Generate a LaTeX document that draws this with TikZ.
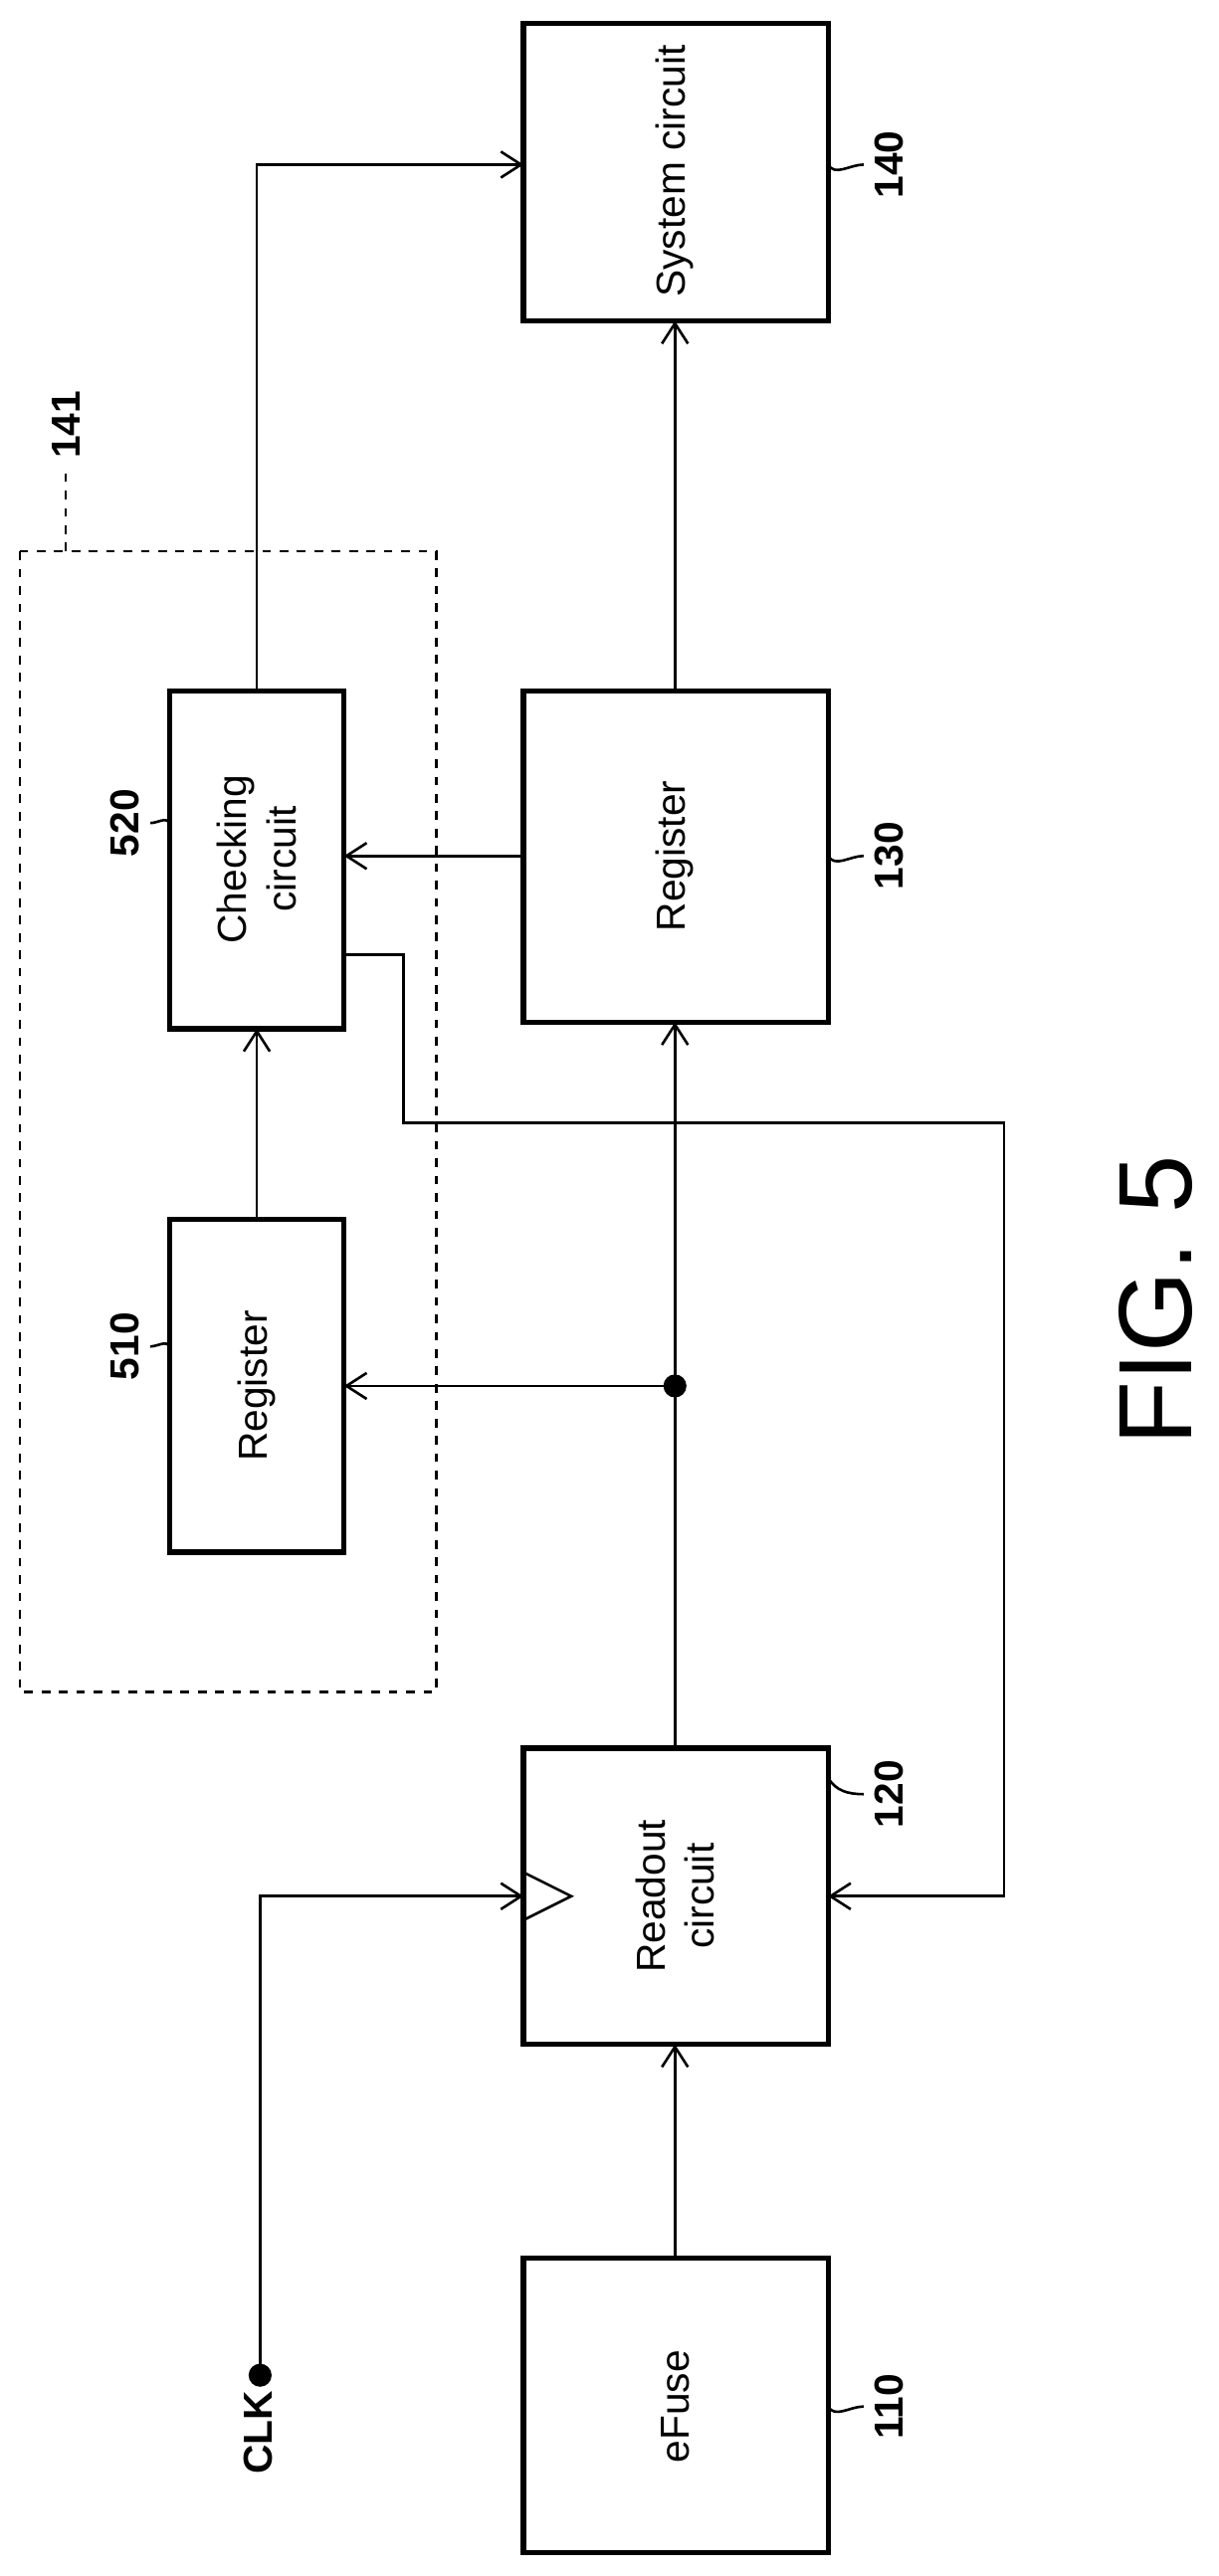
\documentclass[tikz,border=0pt]{standalone}
\usepackage{fontspec}
\setmainfont{Liberation Sans}
\usetikzlibrary{arrows.meta, positioning}

\begin{document}
\begin{tikzpicture}[x=0.02cm, y=-0.02cm, line width=0.9pt,
    blk/.style={draw, line width=1.8pt},
    txt/.style={rotate=90, align=center, font=\fontsize{14}{17}\selectfont},
    lbl/.style={rotate=90, font=\fontsize{14}{17}\selectfont\bfseries},
    arr/.style={-{Straight Barb[length=7pt, width=9pt]}}]
  \useasboundingbox (0,0) rectangle (740,1565);
  % blocks
  \draw[blk] (318,14) rectangle (503,195);
  \draw[blk] (318,420) rectangle (503,621);
  \draw[blk] (318,1062) rectangle (503,1242);
  \draw[blk] (318,1372) rectangle (503,1551);
  \draw[blk] (103,420) rectangle (209,625);
  \draw[blk] (103,741) rectangle (209,943);
  \draw[dashed, line width=0.8pt] (12,335) rectangle (265,1028);
  \node[txt] (sys) at (410,104) {System circuit};
  \node[txt] (reg) at (410,520) {Register};
  \node[txt] (rd) at (410,1152) {Readout\\circuit};
  \node[txt] (efuse) at (410,1462) {eFuse};
  \node[txt] (chk) at (156,522) {Checking\\circuit};
  \node[txt] (regb) at (156,842) {Register};
  % ports
  \coordinate (sysL) at (318,100);
  \coordinate (sysB) at (410,195);
  \coordinate (regT) at (410,420);
  \coordinate (regB) at (410,621);
  \coordinate (regL) at (318,520);
  \coordinate (rdT) at (410,1062);
  \coordinate (rdB) at (410,1242);
  \coordinate (rdL) at (318,1152);
  \coordinate (rdR) at (503,1152);
  \coordinate (efT) at (410,1372);
  \coordinate (chkT) at (156,420);
  \coordinate (chkB) at (156,625);
  \coordinate (chkR) at (209,520);
  \coordinate (chkO) at (209,580);
  \coordinate (rgbT) at (156,741);
  \coordinate (rgbR) at (209,842);
  % wires
  \draw[arr] (efT) -- (rdB);
  \draw[arr] (rdT) -- (regB);
  \fill (410,842) coordinate (jn) circle (7);
  \draw[arr] (jn) -- (rgbR);
  \draw[arr] (rgbT) -- (chkB);
  \draw[arr] (regL) -- (chkR);
  \draw[arr] (regT) -- (sysB);
  \draw[arr] (chkT) |- (sysL);
  \draw[arr] (chkO) -- (245,580) -- (245,682) -- (610,682) |- (rdR);
  % clock
  \fill (158,1443) coordinate (clk) circle (7);
  \node[lbl] (clkt) at (157,1478) {CLK};
  \draw[arr] (clk) |- (rdL);
  \draw[line width=0.9pt] (319,1138) -- (347,1152) -- (319,1166);
  % labels
  \node[lbl] (n140) at (540,100) {140};
  \node[lbl] (n130) at (540,520) {130};
  \node[lbl] (n120) at (540,1090) {120};
  \node[lbl] (n110) at (540,1462) {110};
  \node[lbl] (n520) at (76,500) {520};
  \node[lbl] (n510) at (76,818) {510};
  \node[lbl] (n141) at (40,258) {141};
  \draw (503,100) to[out=-60,in=180] (n140.north);
  \draw (503,520) to[out=-60,in=180] (n130.north);
  \draw (503,1080) to[out=-60,in=180] (n120.north);
  \draw (503,1462) to[out=-60,in=180] (n110.north);
  \draw (103,500) to[out=120,in=0] (n520.south);
  \draw (103,818) to[out=120,in=0] (n510.south);
  \draw[dashed] (40,335) -- (n141.west);
  \node[rotate=90, font=\fontsize{36}{40}\selectfont] (fig) at (702,790) {FIG. 5};
\end{tikzpicture}
\end{document}
